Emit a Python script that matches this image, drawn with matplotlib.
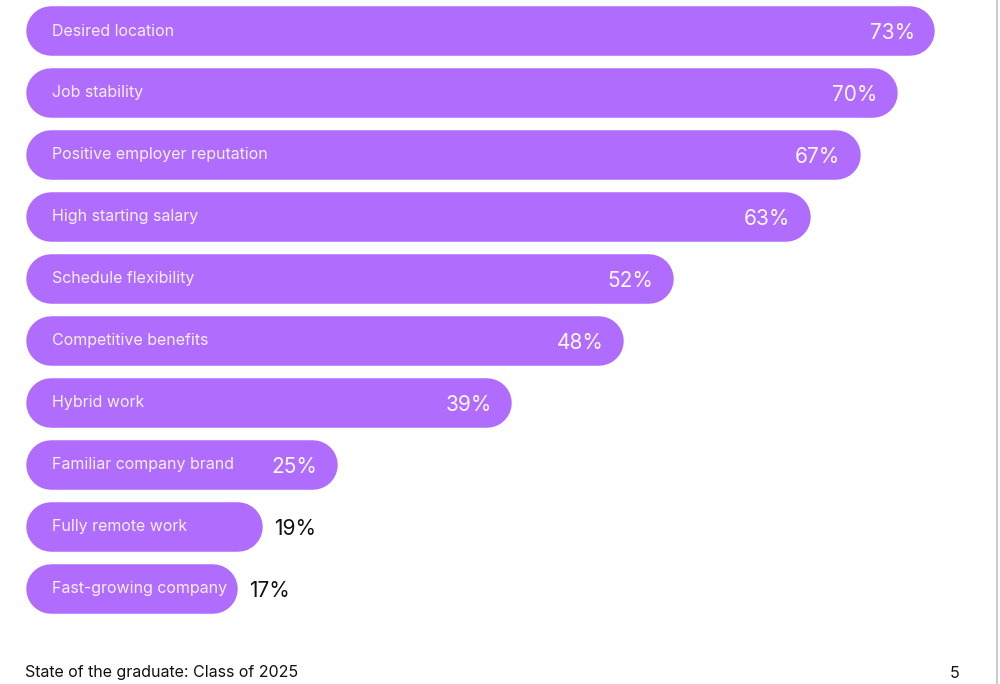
import matplotlib.pyplot as plt

categories = ["Desired location", "Job stability", "Positive employer reputation",
              "High starting salary", "Schedule flexibility", "Competitive benefits",
              "Hybrid work", "Familiar company brand", "Fully remote work",
              "Fast-growing company"]
values = [73, 70, 67, 63, 52, 48, 39, 25, 19, 17]

bar_color = "#AF6CFD"
font = ["Inter", "DejaVu Sans"]

fig = plt.figure(figsize=(10, 6.84), dpi=100)
ax = fig.add_axes([0, 0, 1, 1])

# pixel scale: 0% at x=26px, 73% at x=935px; rows 62px apart
px_per_pct = (935 - 26) / 73
ax.set_xlim(-26 / px_per_pct, (1000 - 26) / px_per_pct)
ax.set_ylim((684 - 31) / 62, -31 / 62)
ax.axis("off")

bar_px = 49.5
r = bar_px / 2 / px_per_pct  # cap radius in % units

for i, (cat, v) in enumerate(zip(categories, values)):
    # pill = thick line with round caps
    ax.plot([r, v - r], [i, i], color=bar_color, lw=bar_px * 0.72,
            solid_capstyle="round")
    ax.text(2.1, i, cat, va="center", ha="left", fontsize=11.5,
            color="#F6EEFF", family=font)
    if v >= 25:
        ax.text(v - 1.6, i + 0.03, f"{v}%", va="center", ha="right", fontsize=15,
                color="#FBF7FF", family=font)
    else:
        ax.text(v + 0.9, i + 0.03, f"{v}%", va="center", ha="left", fontsize=15,
                color="#111111", family=font)

fig.text(0.025, 1 - 673 / 684, "State of the graduate: Class of 2025", fontsize=11.5,
         va="center", ha="left", color="#111111", family=font)
fig.text(0.955, 1 - 673 / 684, "5", fontsize=11.5, va="center", ha="center",
         color="#111111", family=font)

# page edge on the right
fig.add_artist(plt.Line2D([0.997, 0.997], [0, 1], color="#cccccc", lw=1.5))

fig.savefig("out.png", dpi=100, facecolor="white")
